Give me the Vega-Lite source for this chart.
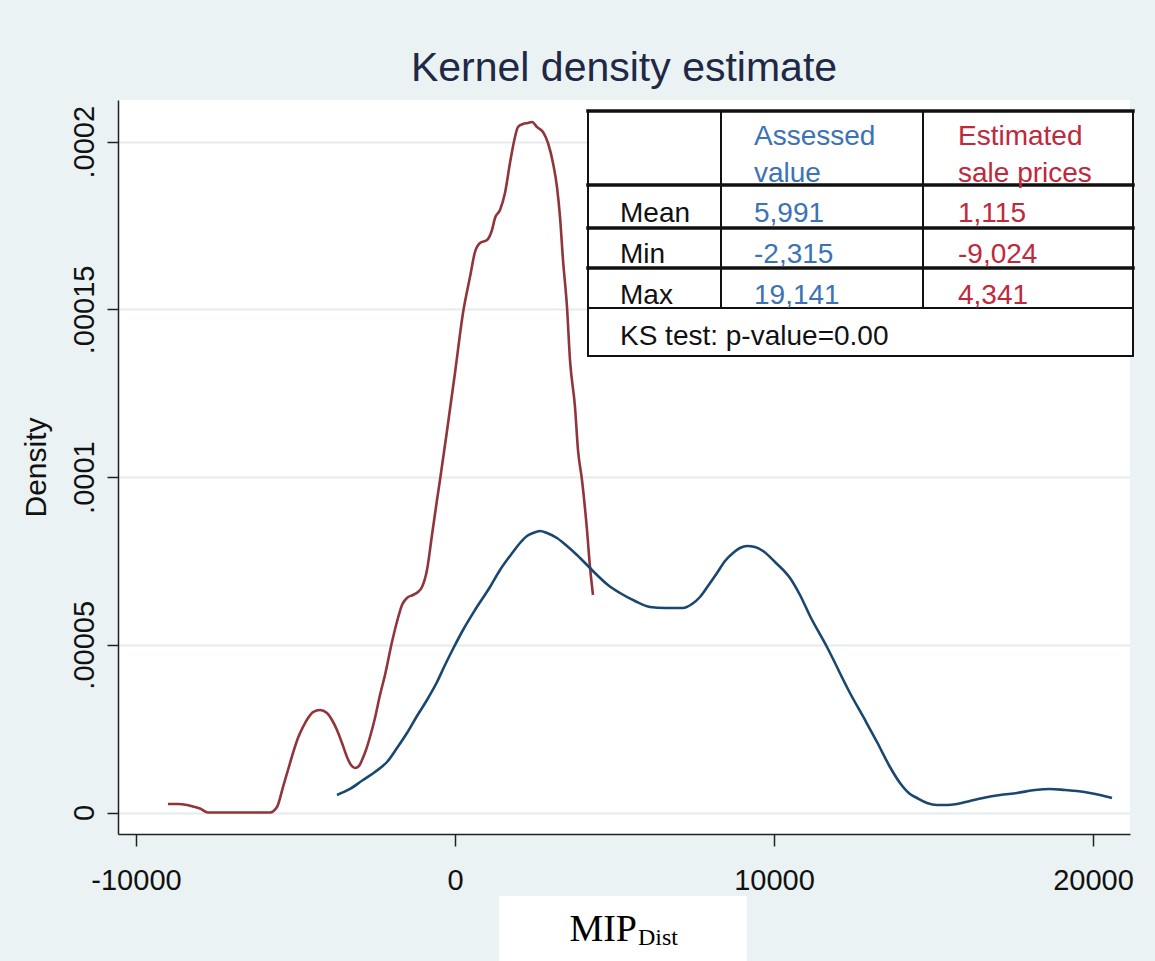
{
  "$schema": "https://vega.github.io/schema/vega-lite/v6.json",
  "width": 1012,
  "height": 734,
  "autosize": {"type": "none"},
  "padding": {"left": 118, "top": 100, "right": 25, "bottom": 127},
  "background": "#eaf2f3",
  "title": {"text": "Kernel density estimate", "fontSize": 41, "font": "Liberation Sans", "fontWeight": "normal", "color": "#1f2845", "anchor": "middle", "offset": 10},
  "config": {"view": {"fill": "white", "stroke": null}, "font": "Liberation Sans"},
  "datasets": {
    "curves": [
      {"series": "Estimated sale prices", "x": -8997, "d": 2.53e-6},
      {"series": "Estimated sale prices", "x": -8683, "d": 2.53e-6},
      {"series": "Estimated sale prices", "x": -8401, "d": 2.24e-6},
      {"series": "Estimated sale prices", "x": -8150, "d": 1.64e-6},
      {"series": "Estimated sale prices", "x": -7994, "d": 1.19e-6},
      {"series": "Estimated sale prices", "x": -7743, "d": 0},
      {"series": "Estimated sale prices", "x": -7367, "d": 0},
      {"series": "Estimated sale prices", "x": -6740, "d": 0},
      {"series": "Estimated sale prices", "x": -6113, "d": 0},
      {"series": "Estimated sale prices", "x": -5799, "d": 0},
      {"series": "Estimated sale prices", "x": -5580, "d": 1.64e-6},
      {"series": "Estimated sale prices", "x": -5392, "d": 7.60e-6},
      {"series": "Estimated sale prices", "x": -5235, "d": 12.67e-6},
      {"series": "Estimated sale prices", "x": -5078, "d": 17.74e-6},
      {"series": "Estimated sale prices", "x": -4922, "d": 22.21e-6},
      {"series": "Estimated sale prices", "x": -4765, "d": 25.49e-6},
      {"series": "Estimated sale prices", "x": -4608, "d": 28.18e-6},
      {"series": "Estimated sale prices", "x": -4451, "d": 29.96e-6},
      {"series": "Estimated sale prices", "x": -4232, "d": 30.56e-6},
      {"series": "Estimated sale prices", "x": -4013, "d": 29.67e-6},
      {"series": "Estimated sale prices", "x": -3856, "d": 27.58e-6},
      {"series": "Estimated sale prices", "x": -3699, "d": 24.60e-6},
      {"series": "Estimated sale prices", "x": -3542, "d": 20.72e-6},
      {"series": "Estimated sale prices", "x": -3386, "d": 16.55e-6},
      {"series": "Estimated sale prices", "x": -3260, "d": 14.16e-6},
      {"series": "Estimated sale prices", "x": -3135, "d": 13.27e-6},
      {"series": "Estimated sale prices", "x": -3009, "d": 13.86e-6},
      {"series": "Estimated sale prices", "x": -2915, "d": 15.65e-6},
      {"series": "Estimated sale prices", "x": -2790, "d": 18.63e-6},
      {"series": "Estimated sale prices", "x": -2665, "d": 22.51e-6},
      {"series": "Estimated sale prices", "x": -2508, "d": 28.18e-6},
      {"series": "Estimated sale prices", "x": -2351, "d": 35.03e-6},
      {"series": "Estimated sale prices", "x": -2194, "d": 41.00e-6},
      {"series": "Estimated sale prices", "x": -1975, "d": 50.83e-6},
      {"series": "Estimated sale prices", "x": -1787, "d": 57.99e-6},
      {"series": "Estimated sale prices", "x": -1661, "d": 61.87e-6},
      {"series": "Estimated sale prices", "x": -1505, "d": 63.95e-6},
      {"series": "Estimated sale prices", "x": -1317, "d": 64.85e-6},
      {"series": "Estimated sale prices", "x": -1160, "d": 65.74e-6},
      {"series": "Estimated sale prices", "x": -1034, "d": 67.23e-6},
      {"series": "Estimated sale prices", "x": -878, "d": 72.30e-6},
      {"series": "Estimated sale prices", "x": -721, "d": 82.74e-6},
      {"series": "Estimated sale prices", "x": -564, "d": 93.17e-6},
      {"series": "Estimated sale prices", "x": -470, "d": 99.14e-6},
      {"series": "Estimated sale prices", "x": -260, "d": 113.15e-6},
      {"series": "Estimated sale prices", "x": 0, "d": 131.04e-6},
      {"series": "Estimated sale prices", "x": 251, "d": 148.93e-6},
      {"series": "Estimated sale prices", "x": 470, "d": 159.66e-6},
      {"series": "Estimated sale prices", "x": 627, "d": 167.11e-6},
      {"series": "Estimated sale prices", "x": 784, "d": 169.80e-6},
      {"series": "Estimated sale prices", "x": 1003, "d": 170.69e-6},
      {"series": "Estimated sale prices", "x": 1160, "d": 173.67e-6},
      {"series": "Estimated sale prices", "x": 1254, "d": 177.25e-6},
      {"series": "Estimated sale prices", "x": 1411, "d": 179.64e-6},
      {"series": "Estimated sale prices", "x": 1567, "d": 184.70e-6},
      {"series": "Estimated sale prices", "x": 1724, "d": 193.65e-6},
      {"series": "Estimated sale prices", "x": 1881, "d": 201.40e-6},
      {"series": "Estimated sale prices", "x": 1975, "d": 204.38e-6},
      {"series": "Estimated sale prices", "x": 2132, "d": 205.28e-6},
      {"series": "Estimated sale prices", "x": 2288, "d": 205.58e-6},
      {"series": "Estimated sale prices", "x": 2414, "d": 205.87e-6},
      {"series": "Estimated sale prices", "x": 2571, "d": 204.38e-6},
      {"series": "Estimated sale prices", "x": 2759, "d": 202.89e-6},
      {"series": "Estimated sale prices", "x": 2915, "d": 199.61e-6},
      {"series": "Estimated sale prices", "x": 3072, "d": 193.65e-6},
      {"series": "Estimated sale prices", "x": 3197, "d": 186.49e-6},
      {"series": "Estimated sale prices", "x": 3292, "d": 177.55e-6},
      {"series": "Estimated sale prices", "x": 3386, "d": 164.73e-6},
      {"series": "Estimated sale prices", "x": 3511, "d": 150.72e-6},
      {"series": "Estimated sale prices", "x": 3605, "d": 134.91e-6},
      {"series": "Estimated sale prices", "x": 3762, "d": 120.90e-6},
      {"series": "Estimated sale prices", "x": 3856, "d": 108.08e-6},
      {"series": "Estimated sale prices", "x": 3981, "d": 99.14e-6},
      {"series": "Estimated sale prices", "x": 4138, "d": 84.23e-6},
      {"series": "Estimated sale prices", "x": 4232, "d": 73.20e-6},
      {"series": "Estimated sale prices", "x": 4326, "d": 64.85e-6},
      {"series": "Assessed value", "x": -3699, "d": 5.22e-6},
      {"series": "Assessed value", "x": -3292, "d": 7.01e-6},
      {"series": "Assessed value", "x": -2884, "d": 9.69e-6},
      {"series": "Assessed value", "x": -2508, "d": 12.08e-6},
      {"series": "Assessed value", "x": -2132, "d": 15.06e-6},
      {"series": "Assessed value", "x": -1818, "d": 19.23e-6},
      {"series": "Assessed value", "x": -1505, "d": 23.70e-6},
      {"series": "Assessed value", "x": -1191, "d": 28.77e-6},
      {"series": "Assessed value", "x": -878, "d": 33.54e-6},
      {"series": "Assessed value", "x": -564, "d": 38.91e-6},
      {"series": "Assessed value", "x": -313, "d": 43.98e-6},
      {"series": "Assessed value", "x": -63, "d": 48.75e-6},
      {"series": "Assessed value", "x": 251, "d": 54.41e-6},
      {"series": "Assessed value", "x": 627, "d": 60.38e-6},
      {"series": "Assessed value", "x": 1097, "d": 67.23e-6},
      {"series": "Assessed value", "x": 1411, "d": 72.30e-6},
      {"series": "Assessed value", "x": 1818, "d": 77.67e-6},
      {"series": "Assessed value", "x": 2038, "d": 80.35e-6},
      {"series": "Assessed value", "x": 2257, "d": 82.44e-6},
      {"series": "Assessed value", "x": 2445, "d": 83.33e-6},
      {"series": "Assessed value", "x": 2665, "d": 83.93e-6},
      {"series": "Assessed value", "x": 2884, "d": 83.33e-6},
      {"series": "Assessed value", "x": 3197, "d": 81.84e-6},
      {"series": "Assessed value", "x": 3511, "d": 79.46e-6},
      {"series": "Assessed value", "x": 3824, "d": 76.77e-6},
      {"series": "Assessed value", "x": 4232, "d": 72.90e-6},
      {"series": "Assessed value", "x": 4451, "d": 70.81e-6},
      {"series": "Assessed value", "x": 4796, "d": 67.83e-6},
      {"series": "Assessed value", "x": 5172, "d": 65.44e-6},
      {"series": "Assessed value", "x": 5643, "d": 63.06e-6},
      {"series": "Assessed value", "x": 6113, "d": 61.27e-6},
      {"series": "Assessed value", "x": 6583, "d": 60.97e-6},
      {"series": "Assessed value", "x": 7147, "d": 60.97e-6},
      {"series": "Assessed value", "x": 7429, "d": 62.16e-6},
      {"series": "Assessed value", "x": 7680, "d": 64.25e-6},
      {"series": "Assessed value", "x": 7931, "d": 67.53e-6},
      {"series": "Assessed value", "x": 8213, "d": 71.41e-6},
      {"series": "Assessed value", "x": 8464, "d": 74.99e-6},
      {"series": "Assessed value", "x": 8715, "d": 77.37e-6},
      {"series": "Assessed value", "x": 8934, "d": 78.86e-6},
      {"series": "Assessed value", "x": 9154, "d": 79.46e-6},
      {"series": "Assessed value", "x": 9404, "d": 79.16e-6},
      {"series": "Assessed value", "x": 9655, "d": 77.97e-6},
      {"series": "Assessed value", "x": 10031, "d": 74.69e-6},
      {"series": "Assessed value", "x": 10502, "d": 69.92e-6},
      {"series": "Assessed value", "x": 10815, "d": 64.85e-6},
      {"series": "Assessed value", "x": 11129, "d": 58.59e-6},
      {"series": "Assessed value", "x": 11661, "d": 49.34e-6},
      {"series": "Assessed value", "x": 12382, "d": 35.63e-6},
      {"series": "Assessed value", "x": 12853, "d": 27.58e-6},
      {"series": "Assessed value", "x": 13229, "d": 21.02e-6},
      {"series": "Assessed value", "x": 13636, "d": 13.57e-6},
      {"series": "Assessed value", "x": 13950, "d": 8.80e-6},
      {"series": "Assessed value", "x": 14263, "d": 5.52e-6},
      {"series": "Assessed value", "x": 14483, "d": 4.32e-6},
      {"series": "Assessed value", "x": 14796, "d": 2.83e-6},
      {"series": "Assessed value", "x": 15110, "d": 2.24e-6},
      {"series": "Assessed value", "x": 15423, "d": 2.24e-6},
      {"series": "Assessed value", "x": 15737, "d": 2.53e-6},
      {"series": "Assessed value", "x": 16144, "d": 3.43e-6},
      {"series": "Assessed value", "x": 16552, "d": 4.32e-6},
      {"series": "Assessed value", "x": 17085, "d": 5.22e-6},
      {"series": "Assessed value", "x": 17618, "d": 5.81e-6},
      {"series": "Assessed value", "x": 18182, "d": 6.71e-6},
      {"series": "Assessed value", "x": 18652, "d": 7.01e-6},
      {"series": "Assessed value", "x": 19122, "d": 6.71e-6},
      {"series": "Assessed value", "x": 19498, "d": 6.41e-6},
      {"series": "Assessed value", "x": 19906, "d": 5.81e-6},
      {"series": "Assessed value", "x": 20219, "d": 5.22e-6},
      {"series": "Assessed value", "x": 20596, "d": 4.32e-6}
    ],
    "tableBox": [
      {"x": 4169, "x2": 21254, "y": 1.3611e-4, "y2": 2.0916e-4}
    ],
    "tableH": [
      {"w": "thick", "x": 4169, "x2": 21254, "y": 2.0916e-4},
      {"w": "thick", "x": 4169, "x2": 21254, "y": 1.8709e-4},
      {"w": "thick", "x": 4169, "x2": 21254, "y": 1.7427e-4},
      {"w": "thick", "x": 4169, "x2": 21254, "y": 1.6234e-4},
      {"w": "thin", "x": 4169, "x2": 21254, "y": 1.5042e-4},
      {"w": "thin", "x": 4169, "x2": 21254, "y": 1.3611e-4}
    ],
    "tableV": [
      {"x": 4169, "y": 1.3611e-4, "y2": 2.0916e-4},
      {"x": 8339, "y": 1.5042e-4, "y2": 2.0916e-4},
      {"x": 14671, "y": 1.5042e-4, "y2": 2.0916e-4},
      {"x": 21254, "y": 1.3611e-4, "y2": 2.0916e-4}
    ],
    "tableText": [
      {"t": "Assessed", "col": "assessed", "x": 9373, "y": 1.9902e-4},
      {"t": "value", "col": "assessed", "x": 9373, "y": 1.8799e-4},
      {"t": "Estimated", "col": "estimated", "x": 15768, "y": 1.9902e-4},
      {"t": "sale prices", "col": "estimated", "x": 15768, "y": 1.8799e-4},
      {"t": "Mean", "col": "stub", "x": 5172, "y": 1.7591e-4},
      {"t": "5,991", "col": "assessed", "x": 9373, "y": 1.7591e-4},
      {"t": "1,115", "col": "estimated", "x": 15768, "y": 1.7591e-4},
      {"t": "Min", "col": "stub", "x": 5172, "y": 1.6369e-4},
      {"t": "-2,315", "col": "assessed", "x": 9373, "y": 1.6369e-4},
      {"t": "-9,024", "col": "estimated", "x": 15768, "y": 1.6369e-4},
      {"t": "Max", "col": "stub", "x": 5172, "y": 1.5146e-4},
      {"t": "19,141", "col": "assessed", "x": 9373, "y": 1.5146e-4},
      {"t": "4,341", "col": "estimated", "x": 15768, "y": 1.5146e-4},
      {"t": "KS test: p-value=0.00", "col": "stub", "x": 5172, "y": 1.3939e-4}
    ],
    "xBox": [
      {"x": 1379, "x2": 9154, "y": -4.547e-5, "y2": -2.4896e-5}
    ],
    "xMain": [
      {"t": "MIP", "x": 5705, "y": -3.831e-5}
    ],
    "xSub": [
      {"t": "Dist", "x": 5737, "y": -3.950e-5}
    ]
  },
  "layer": [
    {
      "data": {"name": "curves"},
      "mark": {"type": "line", "strokeWidth": 2.6, "interpolate": "monotone"},
      "encoding": {
        "x": {
          "field": "x", "type": "quantitative",
          "scale": {"domain": [-10564, 21160], "nice": false, "zero": false},
          "axis": {
            "values": [-10000, 0, 10000, 20000],
            "labelExpr": "datum.value < 0 ? '-' + format(-datum.value, 'd') : format(datum.value, 'd')",
            "labelFontSize": 29, "labelColor": "#111111", "labelPadding": 20,
            "tickSize": 12, "tickColor": "#222222", "tickWidth": 1.5,
            "domainColor": "#222222", "domainWidth": 1.5,
            "grid": false, "title": null
          }
        },
        "y": {
          "field": "d", "type": "quantitative",
          "scale": {"domain": [-6.41e-6, 2.1243e-4], "nice": false, "zero": false},
          "axis": {
            "values": [0, 0.00005, 0.0001, 0.00015, 0.0002],
            "labelExpr": "datum.value == 0 ? '0' : substring(format(datum.value, '.5~f'), 1)",
            "labelAngle": 270, "labelAlign": "center", "labelBaseline": "alphabetic",
            "labelFontSize": 29, "labelColor": "#111111", "labelPadding": 14,
            "tickSize": 11, "tickColor": "#222222", "tickWidth": 1.5,
            "domainColor": "#222222", "domainWidth": 1.5,
            "grid": true, "gridColor": "#e6ecec", "gridWidth": 2,
            "title": "Density", "titleFontSize": 30, "titleFontWeight": "normal",
            "titleColor": "#111111", "titlePadding": 19
          }
        },
        "color": {
          "field": "series", "type": "nominal",
          "scale": {"domain": ["Assessed value", "Estimated sale prices"], "range": ["#1a476f", "#90353b"]},
          "legend": null
        }
      }
    },
    {
      "data": {"name": "tableBox"},
      "mark": {"type": "rect", "fill": "white"},
      "encoding": {
        "x": {"field": "x", "type": "quantitative", "scale": {"domain": [-10564, 21160], "nice": false, "zero": false}},
        "x2": {"field": "x2"},
        "y": {"field": "y", "type": "quantitative", "scale": {"domain": [-6.41e-6, 2.1243e-4], "nice": false, "zero": false}},
        "y2": {"field": "y2"}
      }
    },
    {
      "data": {"name": "tableH"},
      "transform": [{"filter": "datum.w == 'thick'"}],
      "mark": {"type": "rule", "color": "#111111", "strokeWidth": 3.5, "strokeCap": "square"},
      "encoding": {
        "x": {"field": "x", "type": "quantitative", "scale": {"domain": [-10564, 21160], "nice": false, "zero": false}},
        "x2": {"field": "x2"},
        "y": {"field": "y", "type": "quantitative", "scale": {"domain": [-6.41e-6, 2.1243e-4], "nice": false, "zero": false}}
      }
    },
    {
      "data": {"name": "tableH"},
      "transform": [{"filter": "datum.w == 'thin'"}],
      "mark": {"type": "rule", "color": "#111111", "strokeWidth": 1.8, "strokeCap": "square"},
      "encoding": {
        "x": {"field": "x", "type": "quantitative", "scale": {"domain": [-10564, 21160], "nice": false, "zero": false}},
        "x2": {"field": "x2"},
        "y": {"field": "y", "type": "quantitative", "scale": {"domain": [-6.41e-6, 2.1243e-4], "nice": false, "zero": false}}
      }
    },
    {
      "data": {"name": "tableV"},
      "mark": {"type": "rule", "color": "#111111", "strokeWidth": 2},
      "encoding": {
        "x": {"field": "x", "type": "quantitative", "scale": {"domain": [-10564, 21160], "nice": false, "zero": false}},
        "y": {"field": "y", "type": "quantitative", "scale": {"domain": [-6.41e-6, 2.1243e-4], "nice": false, "zero": false}},
        "y2": {"field": "y2"}
      }
    },
    {
      "data": {"name": "tableText"},
      "mark": {"type": "text", "align": "left", "baseline": "alphabetic", "fontSize": 28, "font": "Liberation Sans"},
      "encoding": {
        "x": {"field": "x", "type": "quantitative", "scale": {"domain": [-10564, 21160], "nice": false, "zero": false}},
        "y": {"field": "y", "type": "quantitative", "scale": {"domain": [-6.41e-6, 2.1243e-4], "nice": false, "zero": false}},
        "text": {"field": "t"},
        "color": {
          "field": "col", "type": "nominal",
          "scale": {"domain": ["stub", "assessed", "estimated"], "range": ["#111111", "#3b73b4", "#c0283b"]},
          "legend": null
        }
      }
    },
    {
      "data": {"name": "xBox"},
      "mark": {"type": "rect", "fill": "white"},
      "encoding": {
        "x": {"field": "x", "type": "quantitative", "scale": {"domain": [-10564, 21160], "nice": false, "zero": false}},
        "x2": {"field": "x2"},
        "y": {"field": "y", "type": "quantitative", "scale": {"domain": [-6.41e-6, 2.1243e-4], "nice": false, "zero": false}},
        "y2": {"field": "y2"}
      }
    },
    {
      "data": {"name": "xMain"},
      "mark": {"type": "text", "align": "right", "baseline": "alphabetic", "fontSize": 38, "font": "Liberation Serif", "color": "#000000"},
      "encoding": {
        "x": {"field": "x", "type": "quantitative", "scale": {"domain": [-10564, 21160], "nice": false, "zero": false}},
        "y": {"field": "y", "type": "quantitative", "scale": {"domain": [-6.41e-6, 2.1243e-4], "nice": false, "zero": false}},
        "text": {"field": "t"}
      }
    },
    {
      "data": {"name": "xSub"},
      "mark": {"type": "text", "align": "left", "baseline": "alphabetic", "fontSize": 24, "font": "Liberation Serif", "color": "#000000"},
      "encoding": {
        "x": {"field": "x", "type": "quantitative", "scale": {"domain": [-10564, 21160], "nice": false, "zero": false}},
        "y": {"field": "y", "type": "quantitative", "scale": {"domain": [-6.41e-6, 2.1243e-4], "nice": false, "zero": false}},
        "text": {"field": "t"}
      }
    }
  ],
  "resolve": {"scale": {"color": "independent"}}
}
